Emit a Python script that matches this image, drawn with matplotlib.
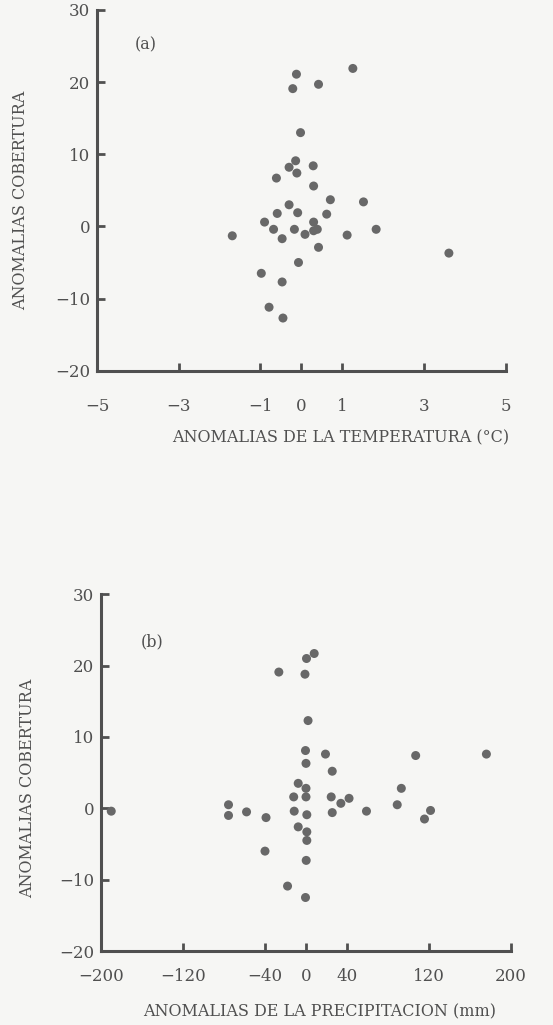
import matplotlib
matplotlib.use("Agg")
import matplotlib.pyplot as plt

# Panel (a): temperature anomalies (°C) vs cover anomalies
temp_x = [1.26, -0.12, -0.21, 0.42, -0.02, -0.14, -0.30, -0.11, 0.29, -0.61,
          0.30, 0.71, 1.52, -0.30, -0.59, -0.09, 0.62, -0.90, 0.30, -0.68,
          -0.17, 0.30, 0.39, 1.83, -1.69, -0.47, 0.09, 1.12, 0.42, 3.61,
          -0.07, -0.98, -0.47, -0.79, -0.45]
temp_y = [21.9, 21.1, 19.1, 19.7, 13.0, 9.1, 8.2, 7.4, 8.4, 6.7,
          5.6, 3.7, 3.4, 3.0, 1.8, 1.9, 1.7, 0.6, 0.6, -0.4,
          -0.4, -0.6, -0.4, -0.4, -1.3, -1.7, -1.1, -1.2, -2.9, -3.7,
          -5.0, -6.5, -7.7, -11.2, -12.7]

# Panel (b): precipitation anomalies (mm) vs cover anomalies
prec_x = [8, 0.5, -26.5, -1, 2, -0.5, 19, 107, 176, 0,
          25.6, -7.6, 0, 93, -12, 0, 24.6, 42, 34, 89,
          -75.6, -75.6, -58, -190, -11.5, 25.6, 59, 121.5, 115.6, 0.8,
          -39, -7.6, 0.8, 0.8, -40, 0.2, -18, -0.5]
prec_y = [21.7, 21.0, 19.1, 18.8, 12.3, 8.1, 7.6, 7.4, 7.6, 6.3,
          5.2, 3.5, 2.8, 2.8, 1.6, 1.6, 1.6, 1.4, 0.7, 0.5,
          0.5, -1.0, -0.5, -0.4, -0.4, -0.6, -0.4, -0.3, -1.5, -0.9,
          -1.3, -2.6, -3.3, -4.5, -6.0, -7.3, -10.9, -12.5]

temp_ticks = [-5, -3, -1, 0, 1, 3, 5]
prec_ticks = [-200, -120, -40, 0, 40, 120, 200]
y_ticks = [-20, -10, 0, 10, 20, 30]

W, H = 553, 1025
fig = plt.figure(figsize=(W / 100, H / 100), dpi=100)
bg = '#f6f6f4'
fig.patch.set_facecolor(bg)

ink = '#505050'
dot = '#686868'
font = 'DejaVu Serif'
fs = 11.5
tfs = 12

def px_axes(l, r, t, b):
    return [l / W, 1 - b / H, (r - l) / W, (b - t) / H]

def style(ax, xlim, xticks, xpad):
    ax.set_facecolor(bg)
    ax.set_xlim(*xlim)
    ax.set_ylim(-20, 30)
    ax.set_xticks(xticks)
    ax.set_yticks(y_ticks)
    ax.set_xticklabels([str(t).replace('-', '\u2212') for t in xticks])
    ax.set_yticklabels([str(t).replace('-', '\u2212') for t in y_ticks])
    for s in ['top', 'right']:
        ax.spines[s].set_visible(False)
    for s in ['left', 'bottom']:
        ax.spines[s].set_linewidth(2.2)
        ax.spines[s].set_color(ink)
    ax.tick_params(direction='in', length=6, width=2, color=ink,
                   labelcolor=ink, labelsize=tfs)
    ax.tick_params(axis='x', pad=xpad)
    ax.tick_params(axis='y', pad=5)
    for lab in ax.get_xticklabels() + ax.get_yticklabels():
        lab.set_family(font)

# Panel (a)
ax1 = fig.add_axes(px_axes(97, 505.7, 10, 370.7))
ax1.scatter(temp_x, temp_y, s=42, color=dot, edgecolors='none', zorder=3)
style(ax1, (-5, 5), temp_ticks, 20)
fig.text(509 / W, 1 - 438 / H, 'ANOMALIAS DE LA TEMPERATURA (°C)', ha='right',
         va='center', fontsize=fs, family=font, color=ink)
fig.text(21 / W, 1 - 200 / H, 'ANOMALIAS COBERTURA', rotation=90, ha='center',
         va='center', fontsize=fs, family=font, color=ink)
fig.text(146 / W, 1 - 45 / H, '(a)', ha='center', va='center', fontsize=fs,
         family=font, color=ink)

# Panel (b)
ax2 = fig.add_axes(px_axes(101, 511, 594.3, 951))
ax2.scatter(prec_x, prec_y, s=42, color=dot, edgecolors='none', zorder=3,
            clip_on=False)
style(ax2, (-200, 200), prec_ticks, 12)
fig.text(320 / W, 1 - 1012 / H, 'ANOMALIAS DE LA PRECIPITACION (mm)', ha='center',
         va='center', fontsize=fs, family=font, color=ink)
fig.text(28 / W, 1 - 788 / H, 'ANOMALIAS COBERTURA', rotation=90, ha='center',
         va='center', fontsize=fs, family=font, color=ink)
fig.text(152 / W, 1 - 642 / H, '(b)', ha='center', va='center', fontsize=fs,
         family=font, color=ink)

fig.savefig('out.png', dpi=100, facecolor=bg)
